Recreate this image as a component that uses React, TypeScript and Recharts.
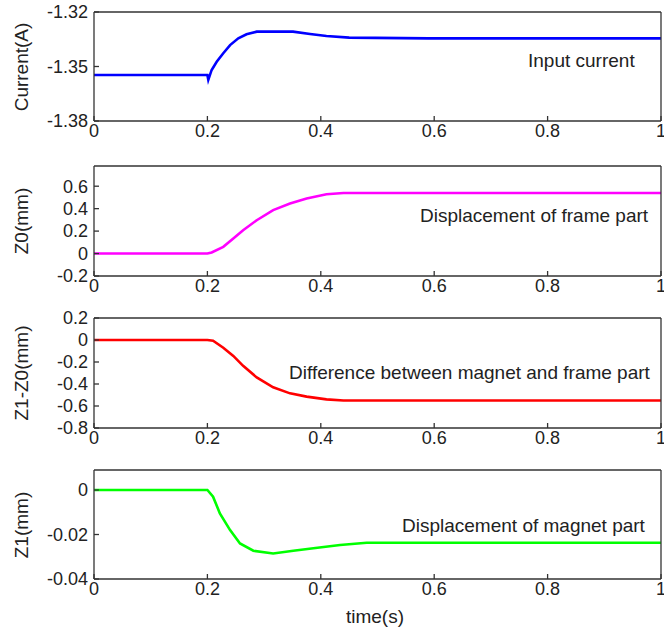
import { LineChart, Line, XAxis, YAxis } from "recharts";

// time (s) samples and values
const currentTime = [0, 0.2, 0.2016, 0.2075, 0.2164, 0.228, 0.24, 0.2545, 0.269, 0.287, 0.351, 0.381, 0.41, 0.45, 0.59, 1];
const currentValues = [-1.3547, -1.3547, -1.3574, -1.3519, -1.3474, -1.3427, -1.3382, -1.3345, -1.3323, -1.3308, -1.3308, -1.3321, -1.3332, -1.3341, -1.3345, -1.3345];

const frameTime = [0, 0.2, 0.2075, 0.228, 0.2457, 0.263, 0.287, 0.316, 0.3457, 0.375, 0.41, 0.44, 1];
const frameValues = [0, 0, 0.01, 0.06, 0.134, 0.208, 0.297, 0.387, 0.446, 0.491, 0.529, 0.54, 0.54];

const diffTime = [0, 0.2, 0.21, 0.228, 0.2457, 0.263, 0.287, 0.316, 0.3457, 0.375, 0.41, 0.44, 1];
const diffValues = [0, 0, -0.007, -0.07, -0.145, -0.235, -0.34, -0.43, -0.485, -0.515, -0.54, -0.55, -0.55];

const magnetTime = [0, 0.2, 0.21, 0.222, 0.24, 0.2575, 0.281, 0.316, 0.3515, 0.387, 0.434, 0.481, 1];
const magnetValues = [0, 0, -0.003, -0.0105, -0.018, -0.024, -0.0273, -0.0285, -0.0273, -0.0262, -0.0247, -0.0237, -0.0237];

const xTicks = [0, 0.2, 0.4, 0.6, 0.8, 1];
const currentTicks = [-1.38, -1.35, -1.32];
const frameTicks = [-0.2, 0, 0.2, 0.4, 0.6];
const diffTicks = [-0.8, -0.6, -0.4, -0.2, 0, 0.2];
const magnetTicks = [-0.04, -0.02, 0];

const FONT = '"Liberation Sans", Arial, sans-serif';
const TEXT = "#222";
const AXIS = "#333";

const fmt = (digits: number) => (v: number) => (v === 0 ? "0" : v === 1 ? "1" : v.toFixed(digits));

interface PanelProps {
  top: number;
  plotHeight: number;
  time: number[];
  values: number[];
  domain: [number, number];
  ticks: number[];
  digits: number;
  color: string;
  yLabel: string;
  note: string;
  noteLeft: number;
  noteBaseline: number;
}

function Panel({ top, plotHeight, time, values, domain, ticks, digits, color, yLabel, note, noteLeft, noteBaseline }: PanelProps) {
  const data = time.map((t, i) => ({ t, v: values[i] }));
  const tickStyle = { fontSize: 18, fill: TEXT, fontFamily: FONT };
  return (
    <>
      <div style={{ position: "absolute", left: 0, top: top - 10 }}>
        <LineChart width={664} height={plotHeight + 40} data={data} margin={{ top: 9, right: 2, bottom: 0, left: 0 }}>
          <XAxis
            dataKey="t"
            type="number"
            domain={[0, 1]}
            ticks={xTicks}
            interval={0}
            tickFormatter={fmt(1)}
            tick={tickStyle}
            tickSize={-5}
            tickMargin={8}
            height={30}
            stroke={AXIS}
            strokeWidth={1.3}
          />
          {/* top and right axes only close the box and carry inward ticks */}
          <XAxis
            xAxisId="top"
            dataKey="t"
            orientation="top"
            type="number"
            domain={[0, 1]}
            ticks={xTicks}
            interval={0}
            tick={false}
            tickSize={-5}
            height={1}
            stroke={AXIS}
            strokeWidth={1.3}
          />
          <YAxis
            type="number"
            domain={domain}
            ticks={ticks}
            interval={0}
            tickFormatter={fmt(digits)}
            tick={tickStyle}
            tickSize={-5}
            tickMargin={11}
            width={94}
            stroke={AXIS}
            strokeWidth={1.3}
          />
          <YAxis
            yAxisId="right"
            dataKey="v"
            orientation="right"
            type="number"
            domain={domain}
            ticks={ticks}
            interval={0}
            tick={false}
            tickSize={-5}
            width={1}
            stroke={AXIS}
            strokeWidth={1.3}
          />
          <Line dataKey="v" type="linear" stroke={color} strokeWidth={2.6} dot={false} isAnimationActive={false} />
        </LineChart>
      </div>
      <div
        style={{
          position: "absolute",
          left: 21,
          top: top + plotHeight / 2,
          transform: "translate(-50%, -50%) rotate(-90deg)",
          whiteSpace: "nowrap",
          fontFamily: FONT,
          fontSize: 19,
          lineHeight: "19px",
          color: TEXT,
        }}
      >
        {yLabel}
      </div>
      <div
        style={{
          position: "absolute",
          left: noteLeft,
          top: noteBaseline - 16,
          whiteSpace: "nowrap",
          fontFamily: FONT,
          fontSize: 19,
          lineHeight: "19px",
          color: TEXT,
        }}
      >
        {note}
      </div>
    </>
  );
}

export default function App() {
  return (
    <div style={{ position: "absolute", left: 0, top: 0, width: 664, height: 636, background: "#fff", overflow: "hidden" }}>
      <Panel top={12} plotHeight={109} time={currentTime} values={currentValues} domain={[-1.38, -1.32]} ticks={currentTicks} digits={2}
        color="#0000ff" yLabel="Current(A)" note="Input current" noteLeft={528} noteBaseline={67} />
      <Panel top={166} plotHeight={110} time={frameTime} values={frameValues} domain={[-0.2, 0.78]} ticks={frameTicks} digits={1}
        color="#ff00ff" yLabel="Z0(mm)" note="Displacement of frame part" noteLeft={420} noteBaseline={222} />
      <Panel top={318} plotHeight={110} time={diffTime} values={diffValues} domain={[-0.8, 0.2]} ticks={diffTicks} digits={1}
        color="#ff0000" yLabel="Z1-Z0(mm)" note="Difference between magnet and frame part" noteLeft={289} noteBaseline={379} />
      <Panel top={470} plotHeight={109} time={magnetTime} values={magnetValues} domain={[-0.04, 0.009]} ticks={magnetTicks} digits={2}
        color="#00ff00" yLabel="Z1(mm)" note="Displacement of magnet part" noteLeft={402} noteBaseline={532} />
      <div style={{ position: "absolute", left: 375, top: 607, transform: "translateX(-50%)", fontFamily: FONT, fontSize: 19, lineHeight: "19px", color: TEXT }}>
        time(s)
      </div>
    </div>
  );
}
